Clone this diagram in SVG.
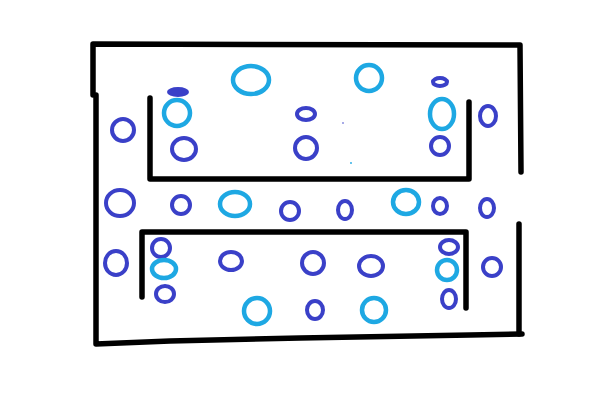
<svg xmlns="http://www.w3.org/2000/svg" width="600" height="406" viewBox="0 0 600 406">
<style>
.w{fill:none;stroke:#000;stroke-width:5.5;stroke-linecap:round;stroke-linejoin:round}
.d{fill:none;stroke:#3a40c8;stroke-width:4}
.l{fill:none;stroke:#1ea8e3;stroke-width:4.5}
</style>
<rect width="600" height="406" fill="#fff"/>
<g id="walls">
<polyline class="w" points="93,95 93,44 520,45 521,172"/>
<polyline class="w" points="96,95 96,344 170,341 300,338 470,335 522,334"/>
<line class="w" x1="519" y1="224" x2="519" y2="334"/>
<polyline class="w" points="150,98 150,179 469,179 469,102"/>
<polyline class="w" points="142,297 142,232 466,232 466,308"/>
</g>
<g id="upper">
<ellipse class="l" cx="251" cy="80" rx="18" ry="14"/>
<ellipse cx="178" cy="92" rx="11" ry="5" fill="#3a40c8"/>
<circle class="l" cx="177" cy="113" r="13"/>
<circle class="d" cx="123" cy="130" r="11"/>
<ellipse class="d" cx="184" cy="149" rx="12" ry="11"/>
<ellipse class="d" cx="306" cy="114" rx="9" ry="6"/>
<circle class="d" cx="306" cy="148" r="11"/>
<circle class="l" cx="369" cy="78" r="13"/>
<ellipse class="d" cx="440" cy="82" rx="7" ry="4"/>
<ellipse class="l" cx="442" cy="114" rx="12" ry="15"/>
<circle class="d" cx="440" cy="146" r="9"/>
<ellipse class="d" cx="488" cy="116" rx="8" ry="10"/>
<circle cx="343" cy="123" r="0.8" fill="#3a40c8"/>
<circle cx="351" cy="163" r="0.9" fill="#1ea8e3"/>
</g>
<g id="middle">
<ellipse class="d" cx="120" cy="203" rx="14" ry="13"/>
<circle class="d" cx="181" cy="205" r="9"/>
<ellipse class="l" cx="235" cy="204" rx="15" ry="12"/>
<circle class="d" cx="290" cy="211" r="9"/>
<ellipse class="d" cx="345" cy="210" rx="7" ry="9"/>
<ellipse class="l" cx="406" cy="202" rx="13" ry="12"/>
<ellipse class="d" cx="440" cy="206" rx="7" ry="8"/>
<ellipse class="d" cx="487" cy="208" rx="7" ry="9"/>
</g>
<g id="lower">
<ellipse class="d" cx="116" cy="263" rx="11" ry="12"/>
<circle class="d" cx="161" cy="248" r="9"/>
<ellipse class="l" cx="164" cy="269" rx="12" ry="9"/>
<ellipse class="d" cx="165" cy="294" rx="9" ry="8"/>
<ellipse class="d" cx="231" cy="261" rx="11" ry="9"/>
<circle class="l" cx="257" cy="311" r="13"/>
<circle class="d" cx="313" cy="263" r="11"/>
<ellipse class="d" cx="371" cy="266" rx="12" ry="10"/>
<ellipse class="d" cx="315" cy="310" rx="8" ry="9"/>
<circle class="l" cx="374" cy="310" r="12"/>
<ellipse class="d" cx="449" cy="247" rx="9" ry="7"/>
<circle class="l" cx="447" cy="270" r="10"/>
<ellipse class="d" cx="449" cy="299" rx="7" ry="9"/>
<circle class="d" cx="492" cy="267" r="9"/>
</g>
</svg>
